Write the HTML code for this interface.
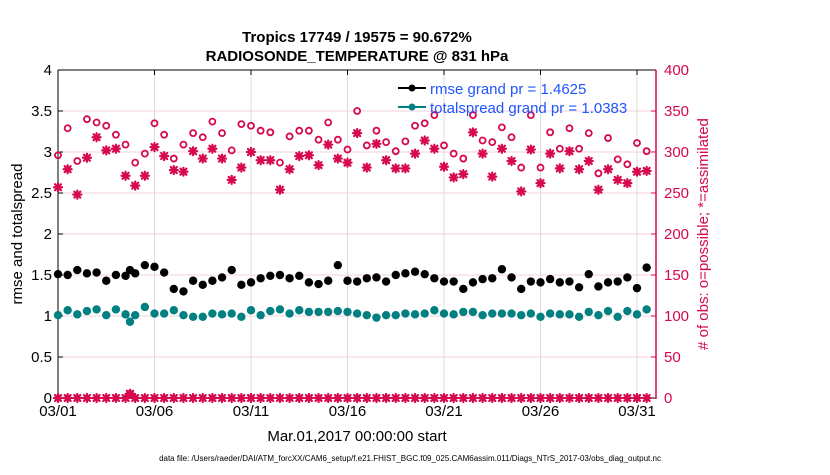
<!DOCTYPE html>
<html><head><meta charset="utf-8"><style>
body{margin:0;background:#fff;}
svg text{font-family:"Liberation Sans",Arial,sans-serif;}
</style></head><body>
<svg id="chart" width="830" height="470" xmlns="http://www.w3.org/2000/svg">
<rect width="830" height="470" fill="#fff"/>
<text x="357" y="42" font-size="15" font-weight="bold" text-anchor="middle">Tropics 17749 / 19575 = 90.672%</text>
<text x="357" y="61" font-size="15" font-weight="bold" text-anchor="middle">RADIOSONDE_TEMPERATURE @ 831 hPa</text>
<g id="grid"></g>
<g id="axes"></g>
<g id="marks"></g>
<text transform="translate(22,234) rotate(-90)" font-size="15" text-anchor="middle">rmse and totalspread</text>
<text transform="translate(708,234) rotate(-90)" font-size="15" fill="#d6084f" text-anchor="middle"># of obs: o=possible; *=assimilated</text>
<text x="357" y="441" font-size="15" text-anchor="middle">Mar.01,2017 00:00:00 start</text>
<text x="410" y="461" font-size="8" text-anchor="middle">data file: /Users/raeder/DAI/ATM_forcXX/CAM6_setup/f.e21.FHIST_BGC.f09_025.CAM6assim.011/Diags_NTrS_2017-03/obs_diag_output.nc</text>
<g id="legend">
<line x1="398" y1="88" x2="426" y2="88" stroke="#000" stroke-width="2"/>
<circle cx="412" cy="88" r="3.5" fill="#000"/>
<text x="430" y="94" font-size="15" fill="#1f55ff">rmse grand pr = 1.4625</text>
<line x1="398" y1="107" x2="426" y2="107" stroke="#008080" stroke-width="2"/>
<circle cx="412" cy="107" r="3.5" fill="#008080"/>
<text x="430" y="113" font-size="15" fill="#1f55ff">totalspread grand pr = 1.0383</text>
</g>
</svg>
<script>
// days since 03/01 00Z
const days = [0,0.5,1,1.5,2,2.5,3,3.5,3.73,4,4.5,5,5.5,6,6.5,7,7.5,8,8.5,9,9.5,10,10.5,11,11.5,12,12.5,13,13.5,14,14.5,15,15.5,16,16.5,17,17.5,18,18.5,19,19.5,20,20.5,21,21.5,22,22.5,23,23.5,24,24.5,25,25.5,26,26.5,27,27.5,28,28.5,29,29.5,30,30.5];
const rmse = [1.51,1.50,1.56,1.52,1.53,1.43,1.50,1.49,1.56,1.52,1.62,1.60,1.53,1.33,1.30,1.43,1.38,1.43,1.47,1.56,1.38,1.41,1.46,1.49,1.50,1.46,1.49,1.41,1.39,1.43,1.62,1.43,1.42,1.46,1.47,1.42,1.50,1.52,1.54,1.51,1.46,1.42,1.42,1.33,1.41,1.45,1.46,1.57,1.47,1.33,1.42,1.41,1.45,1.41,1.42,1.35,1.51,1.36,1.41,1.42,1.47,1.34,1.59];
const spread = [1.01,1.07,1.02,1.06,1.08,1.01,1.08,1.02,0.93,1.01,1.11,1.03,1.03,1.07,1.01,0.99,0.99,1.03,1.02,1.03,0.99,1.07,1.01,1.06,1.08,1.03,1.07,1.05,1.05,1.05,1.06,1.05,1.03,1.01,0.98,1.01,1.01,1.03,1.02,1.03,1.07,1.03,1.02,1.05,1.05,1.01,1.03,1.03,1.03,1.01,1.03,0.99,1.03,1.02,1.02,0.99,1.05,1.01,1.06,0.99,1.06,1.02,1.08];
const possible = [296,329,289,340,336,332,321,309,5,287,298,335,321,292,309,323,318,337,323,302,334,332,326,324,287,319,326,326,315,336,315,303,350,308,326,312,301,313,332,335,345,308,298,292,345,314,312,330,318,281,345,281,324,304,329,304,323,274,317,291,285,311,301];
const assimilated = [257,279,248,293,318,302,304,271,5,259,271,306,295,278,276,301,292,304,292,266,281,300,290,290,254,279,295,296,284,309,292,287,323,281,310,290,280,280,298,314,304,282,269,273,324,298,270,304,289,252,303,262,298,280,301,279,289,254,279,266,262,276,277];
const zeroPossible = days.map((d,i)=> i===8 ? 5 : 0);
const yTicks = [0,0.5,1,1.5,2,2.5,3,3.5,4];
const y2Ticks = [0,50,100,150,200,250,300,350,400];
const xTickDays = [0,5,10,15,20,25,30];
const xTickLabels = ["03/01","03/06","03/11","03/16","03/21","03/26","03/31"];

const X0=58, X1=656, Y0=398, Y1=70, CR="#d6084f";
const dayPx = (637-58)/30;
const xs = d => X0 + d*dayPx;
const ys = v => Y0 - (v/4)*(Y0-Y1);
const ys2 = v => Y0 - (v/400)*(Y0-Y1);
const NS="http://www.w3.org/2000/svg";
function mk(tag, attrs, parent){const e=document.createElementNS(NS,tag);for(const k in attrs)e.setAttribute(k,attrs[k]);parent.appendChild(e);return e;}
const grid=document.getElementById('grid'), axes=document.getElementById('axes'), marks=document.getElementById('marks');

yTicks.forEach(t=>{
  const l=mk('line',{x1:X0,x2:X1,y1:ys(t),y2:ys(t),stroke:'#f3d0dc','stroke-width':1},grid);
  
  
  const tk=mk('line',{x1:X0,x2:X0+5,y1:ys(t),y2:ys(t),stroke:'#000'},axes);
  const tx=mk('text',{x:X0-6,y:ys(t)+5,'font-size':15,'text-anchor':'end'},axes);
  tx.textContent=String(t);
  
  
});
y2Ticks.forEach(t=>{
  mk('line',{x1:X1-5,x2:X1,y1:ys2(t),y2:ys2(t),stroke:CR},axes);
  const tx=mk('text',{x:X1+8,y:ys2(t)+5,'font-size':15,fill:CR},axes);
  tx.textContent=String(t);
  
  
});
xTickDays.forEach((d,i)=>{
  const g=mk('line',{x1:xs(d),x2:xs(d),y1:Y1,y2:Y0,stroke:'#dddddd'},grid);
  
  
  mk('line',{x1:xs(d),x2:xs(d),y1:Y0,y2:Y0-5,stroke:'#000'},axes);
  mk('line',{x1:xs(d),x2:xs(d),y1:Y1,y2:Y1+5,stroke:'#000'},axes);
  const tx=mk('text',{x:xs(d),y:Y0+18,'font-size':15,'text-anchor':'middle'},axes);
  tx.textContent=xTickLabels[i];
  
  
});
mk('line',{x1:X0,x2:X1,y1:Y1,y2:Y1,stroke:'#000'},axes);
mk('line',{x1:X0,x2:X1,y1:Y0,y2:Y0,stroke:'#000'},axes);
mk('line',{x1:X0,x2:X0,y1:Y1,y2:Y0,stroke:'#000'},axes);
mk('line',{x1:X1,x2:X1,y1:Y1,y2:Y0+1,stroke:CR,'stroke-width':1.5},axes);

function star(cx,cy,parent){
  const g=mk('g',{stroke:CR,'stroke-width':2.2,'stroke-linecap':'round'},parent);
  const r=4;
  mk('line',{x1:cx-r,x2:cx+r,y1:cy,y2:cy},g);
  mk('line',{x1:cx,x2:cx,y1:cy-r,y2:cy+r},g);
  mk('line',{x1:cx-3,x2:cx+3,y1:cy-3,y2:cy+3},g);
  mk('line',{x1:cx-3,x2:cx+3,y1:cy+3,y2:cy-3},g);
  return g;
}
days.forEach((d,i)=>{
  const x=xs(d);
  const c=mk('circle',{cx:x,cy:ys2(possible[i]),r:3,fill:'none',stroke:CR,'stroke-width':1.8},marks);
  
  
  const s=star(x,ys2(assimilated[i]),marks);
  
  
  const z=star(x,ys2(zeroPossible[i]),marks);
  
  
  mk('circle',{cx:x,cy:ys2(zeroPossible[i]),r:3,fill:CR},marks);
  const a=mk('circle',{cx:x,cy:ys(rmse[i]),r:4.2,fill:'#000'},marks);
  
  
  const b=mk('circle',{cx:x,cy:ys(spread[i]),r:4.2,fill:'#008080'},marks);
  
  
});
</script>
</body></html>
